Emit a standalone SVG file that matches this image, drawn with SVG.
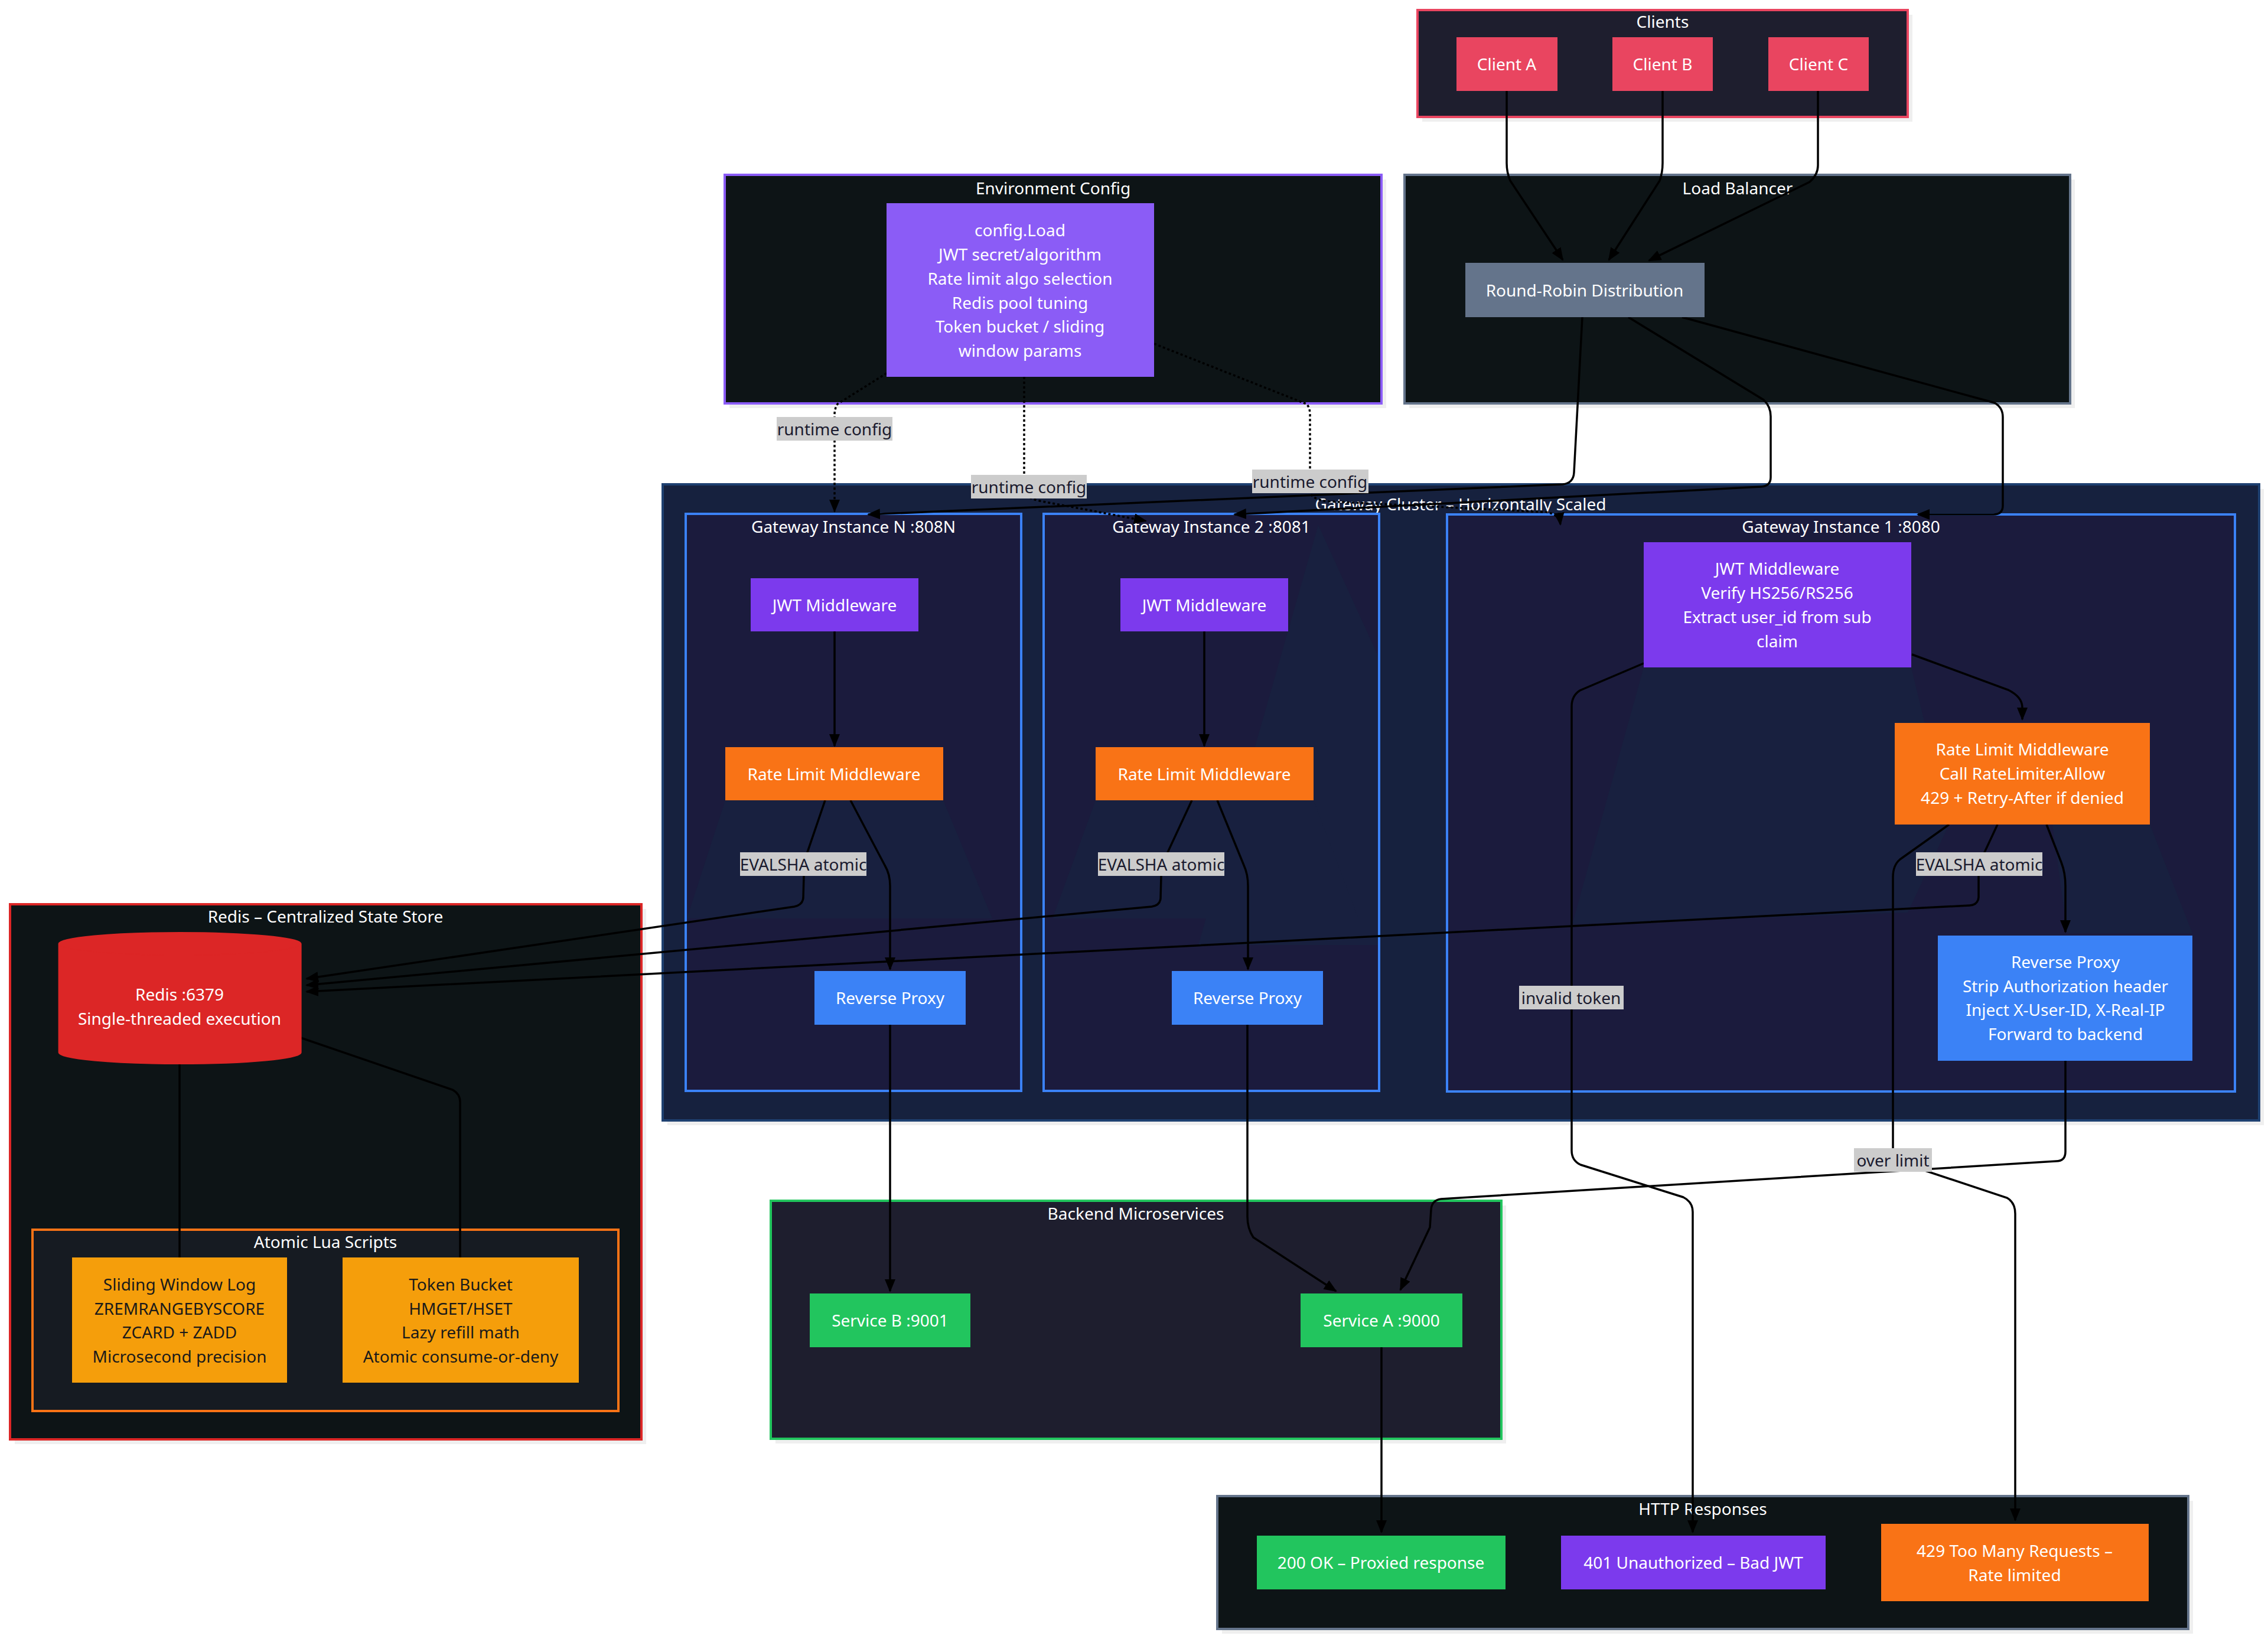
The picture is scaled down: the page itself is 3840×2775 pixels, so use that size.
<svg xmlns="http://www.w3.org/2000/svg" width="3840" height="2775" viewBox="0 0 3840 2775">
<defs>
<style>
text{font-family:"Noto Sans","Liberation Sans",sans-serif;font-size:28px;text-anchor:middle;dominant-baseline:central}
.t{fill:#ffffff}
.dk{fill:#1a1a1a}
.lt{fill:#1a1a2e}
.sh{fill:#efefef}
.e{fill:none;stroke:#000;stroke-width:3.5}
.ea{fill:none;stroke:#000;stroke-width:3.5;marker-end:url(#ah)}
.ed{fill:none;stroke:#000;stroke-width:3.5;stroke-dasharray:4 4;marker-end:url(#ah)}
.lb{fill:#cccccc}
.shade{fill:#18203f}
</style>
<marker id="ah" markerWidth="22" markerHeight="18" refX="20" refY="9" orient="auto" markerUnits="userSpaceOnUse"><path d="M0,0 L22,9 L0,18 z" fill="#000"/></marker>
</defs>
<rect width="3840" height="2775" fill="#ffffff"/>

<!-- clusters -->
<g id="cluster-clients">
<rect x="2408" y="25" width="830" height="181" class="sh"/>
<rect x="2400" y="17" width="830" height="181" fill="#1e1e2e" stroke="#e94560" stroke-width="4"/>
<text x="2815" y="36" class="t">Clients</text>
</g>
<g id="cluster-lb">
<rect x="2386" y="304" width="1127" height="387" class="sh"/>
<rect x="2378" y="296" width="1127" height="387" fill="#0d1416" stroke="#64748b" stroke-width="4"/>
<text x="2942" y="318" class="t">Load Balancer</text>
</g>
<g id="cluster-env">
<rect x="1235" y="304" width="1112" height="387" class="sh"/>
<rect x="1227" y="296" width="1112" height="387" fill="#0d1416" stroke="#8b5cf6" stroke-width="4"/>
<text x="1783" y="318" class="t">Environment Config</text>
</g>
<g id="cluster-gateway">
<rect x="1130" y="828" width="2703" height="1077" class="sh"/>
<rect x="1122" y="820" width="2703" height="1077" fill="#16213e" stroke="#1e4070" stroke-width="4"/>
<text x="2473" y="853" class="t">Gateway Cluster – Horizontally Scaled</text>
</g>
<g id="cluster-gwN">
<rect x="1161" y="870" width="568" height="977" fill="#1b1b3d" stroke="#3b82f6" stroke-width="4"/>
</g>
<g id="cluster-gw2">
<rect x="1767" y="870" width="568" height="977" fill="#1b1b3d" stroke="#3b82f6" stroke-width="4"/>
</g>
<g id="cluster-gw1">
<rect x="2450" y="871" width="1334" height="977" fill="#1b1b3d" stroke="#3b82f6" stroke-width="4"/>
</g>
<g id="shading">
<polygon class="shade" points="1228,1355 1597,1355 1680,1555 1163,1555"/>
<polygon class="shade" points="2232,889 2333,1110 2333,1600 2029,1600"/>
<polygon class="shade" points="1855,1355 2224,1355 2300,1555 1782,1555"/>
<polygon class="shade" points="2783,1130 3236,1130 3300,1396 3230,1545 2662,1565"/>
<polygon class="shade" points="3475,1396 3640,1396 3712,1580 3500,1580"/>
</g>
<g id="cluster-gw-titles">
<text x="1445" y="891" class="t">Gateway Instance N :808N</text>
<text x="2051" y="891" class="t">Gateway Instance 2 :8081</text>
<text x="3117" y="891" class="t">Gateway Instance 1 :8080</text>
</g>
<g id="cluster-redis">
<rect x="25" y="1539" width="1069" height="906" class="sh"/>
<rect x="17" y="1531" width="1069" height="906" fill="#0d1416" stroke="#dc2626" stroke-width="4"/>
<text x="551" y="1551" class="t">Redis – Centralized State Store</text>
</g>
<g id="cluster-lua">
<rect x="55" y="2082" width="992" height="307" fill="#161b22" stroke="#f97316" stroke-width="4"/>
<text x="551" y="2102" class="t">Atomic Lua Scripts</text>
</g>
<g id="cluster-backend">
<rect x="1313" y="2041" width="1237" height="403" class="sh"/>
<rect x="1305" y="2033" width="1237" height="403" fill="#1e1e2e" stroke="#22c55e" stroke-width="4"/>
<text x="1923" y="2054" class="t">Backend Microservices</text>
</g>
<g id="cluster-http">
<rect x="2069" y="2541" width="1644" height="225" class="sh"/>
<rect x="2061" y="2533" width="1644" height="225" fill="#0d1416" stroke="#64748b" stroke-width="4"/>
<text x="2883" y="2554" class="t">HTTP Responses</text>
</g>

<!-- connectors -->
<g id="connectors">
<path class="ea" d="M2551,154 L2551,276 Q2551,292 2557,306 L2646,440"/>
<path class="ea" d="M2815,154 L2815,276 Q2815,292 2810,306 L2724,440"/>
<path class="ea" d="M3078,154 L3078,280 Q3078,296 3064,308 L2792,441"/>
<path class="ea" d="M2679,537 L2665,800 Q2664,818 2646,820 L1470,871"/>
<path class="ea" d="M2757,537 L2986,677 Q2998,688 2998,705 L2998,808 Q2998,823 2982,824 L2090,871"/>
<path class="ea" d="M2848,537 L3377,682 Q3391,690 3391,706 L3391,856 Q3391,871 3375,871 L3247,871"/>
<path class="ed" d="M1501,632 L1418,684 Q1413,692 1413,702 L1413,866"/>
<path class="ed" d="M1734,638 L1734,830 Q1736,843 1760,848 L1940,882"/>
<path class="ed" d="M1954,582 L2212,684 Q2218,690 2218,702 L2218,832 Q2220,846 2250,849 L2618,867 Q2640,871 2642,888"/>
<path class="ea" d="M1413,1069 L1413,1263"/>
<path class="ea" d="M2039,1069 L2039,1263"/>
<path class="ea" d="M1440,1355 L1498,1465 Q1507,1480 1507,1500 L1507,1641"/>
<path class="ea" d="M2061,1355 L2106,1465 Q2113,1480 2113,1500 L2113,1641"/>
<path class="ea" d="M1397,1355 L1367,1443 L1361,1483 L1360,1520 Q1359,1532 1345,1535 L519,1657"/>
<path class="ea" d="M2018,1355 L1977,1443 L1966,1483 L1965,1521 Q1964,1533 1950,1535 L519,1668"/>
<path class="ea" d="M3382,1396 L3360,1443 L3350,1483 L3350,1519 Q3349,1532 3335,1533 L519,1679"/>
<path class="ea" d="M3237,1108 L3400,1168 Q3424,1180 3424,1198 L3424,1218"/>
<path class="ea" d="M3465,1396 L3490,1460 Q3497,1478 3497,1500 L3497,1578"/>
<path class="ea" d="M2783,1123 L2675,1169 Q2661,1178 2661,1196 L2661,1948 Q2661,1965 2676,1972 L2850,2027 Q2866,2035 2866,2052 L2866,2594"/>
<path class="ea" d="M3300,1396 L3217,1455 Q3205,1465 3205,1485 L3205,1964 L3398,2028 Q3412,2036 3412,2055 L3412,2574"/>
<path class="ea" d="M3497,1796 L3497,1950 Q3497,1966 3481,1966 L2440,2030 Q2424,2032 2423,2048 L2421,2078 L2371,2184"/>
<path class="ea" d="M2112,1735 L2112,2060 Q2112,2080 2122,2095 L2262,2186"/>
<path class="ea" d="M1507,1735 L1507,2186"/>
<path class="ea" d="M2339,2281 L2339,2594"/>
<path class="e" d="M304,1801 L304,2129"/>
<path class="e" d="M509,1757 L766,1845 Q779,1852 779,1866 L779,2129"/>
</g>

<!-- nodes -->
<g id="node-clientA"><rect x="2466" y="63" width="171" height="91" fill="#e94560"/><text x="2551" y="108" class="t">Client A</text></g>
<g id="node-clientB"><rect x="2730" y="63" width="170" height="91" fill="#e94560"/><text x="2815" y="108" class="t">Client B</text></g>
<g id="node-clientC"><rect x="2994" y="63" width="170" height="91" fill="#e94560"/><text x="3079" y="108" class="t">Client C</text></g>
<g id="node-rr"><rect x="2481" y="445" width="405" height="92" fill="#64748b"/><text x="2683" y="491" class="t">Round-Robin Distribution</text></g>
<g id="node-config"><rect x="1501" y="344" width="453" height="294" fill="#8b5cf6"/>
<text x="1727" y="389" class="t">config.Load</text>
<text x="1727" y="430" class="t">JWT secret/algorithm</text>
<text x="1727" y="471" class="t">Rate limit algo selection</text>
<text x="1727" y="512" class="t">Redis pool tuning</text>
<text x="1727" y="552" class="t">Token bucket / sliding</text>
<text x="1727" y="593" class="t">window params</text></g>
<g id="node-jwtN"><rect x="1271" y="979" width="284" height="90" fill="#7c3aed"/><text x="1413" y="1024" class="t">JWT Middleware</text></g>
<g id="node-rlN"><rect x="1228" y="1265" width="369" height="90" fill="#f97316"/><text x="1412" y="1310" class="t">Rate Limit Middleware</text></g>
<g id="node-rpN"><rect x="1379" y="1644" width="256" height="91" fill="#3b82f6"/><text x="1507" y="1689" class="t">Reverse Proxy</text></g>
<g id="node-jwt2"><rect x="1897" y="979" width="284" height="90" fill="#7c3aed"/><text x="2039" y="1024" class="t">JWT Middleware</text></g>
<g id="node-rl2"><rect x="1855" y="1265" width="369" height="90" fill="#f97316"/><text x="2039" y="1310" class="t">Rate Limit Middleware</text></g>
<g id="node-rp2"><rect x="1984" y="1644" width="256" height="91" fill="#3b82f6"/><text x="2112" y="1689" class="t">Reverse Proxy</text></g>
<g id="node-jwt1"><rect x="2783" y="918" width="453" height="212" fill="#7c3aed"/>
<text x="3009" y="962" class="t">JWT Middleware</text>
<text x="3009" y="1003" class="t">Verify HS256/RS256</text>
<text x="3009" y="1044" class="t">Extract user_id from sub</text>
<text x="3009" y="1085" class="t">claim</text></g>
<g id="node-rl1"><rect x="3208" y="1224" width="432" height="172" fill="#f97316"/>
<text x="3424" y="1268" class="t">Rate Limit Middleware</text>
<text x="3424" y="1309" class="t">Call RateLimiter.Allow</text>
<text x="3424" y="1350" class="t">429 + Retry-After if denied</text></g>
<g id="node-rp1"><rect x="3281" y="1584" width="431" height="212" fill="#3b82f6"/>
<text x="3497" y="1628" class="t">Reverse Proxy</text>
<text x="3497" y="1669" class="t">Strip Authorization header</text>
<text x="3497" y="1709" class="t">Inject X-User-ID, X-Real-IP</text>
<text x="3497" y="1750" class="t">Forward to backend</text></g>
<g id="node-redis"><path d="M99.6,1598 a205,19 0 0 0 410,0 a205,19 0 0 0 -410,0 l0,184 a205,19 0 0 0 410,0 l0,-184" fill="#dc2626" stroke="#dc2626" stroke-width="2"/>
<text x="304" y="1683" class="t">Redis :6379</text>
<text x="304" y="1724" class="t">Single-threaded execution</text></g>
<g id="node-sliding"><rect x="122" y="2129" width="364" height="212" fill="#f59e0b"/>
<text x="304" y="2174" class="dk">Sliding Window Log</text>
<text x="304" y="2215" class="dk">ZREMRANGEBYSCORE</text>
<text x="304" y="2255" class="dk">ZCARD + ZADD</text>
<text x="304" y="2296" class="dk">Microsecond precision</text></g>
<g id="node-token"><rect x="580" y="2129" width="400" height="212" fill="#f59e0b"/>
<text x="780" y="2174" class="dk">Token Bucket</text>
<text x="780" y="2215" class="dk">HMGET/HSET</text>
<text x="780" y="2255" class="dk">Lazy refill math</text>
<text x="780" y="2296" class="dk">Atomic consume-or-deny</text></g>
<g id="node-svcB"><rect x="1371" y="2190" width="272" height="91" fill="#22c55e"/><text x="1507" y="2235" class="t">Service B :9001</text></g>
<g id="node-svcA"><rect x="2202" y="2190" width="274" height="91" fill="#22c55e"/><text x="2339" y="2235" class="t">Service A :9000</text></g>
<g id="node-200"><rect x="2128" y="2600" width="421" height="91" fill="#22c55e"/><text x="2338" y="2645" class="t">200 OK – Proxied response</text></g>
<g id="node-401"><rect x="2643" y="2600" width="448" height="91" fill="#7c3aed"/><text x="2867" y="2645" class="t">401 Unauthorized – Bad JWT</text></g>
<g id="node-429"><rect x="3185" y="2580" width="453" height="131" fill="#f97316"/>
<text x="3411" y="2625" class="t">429 Too Many Requests –</text>
<text x="3411" y="2666" class="t">Rate limited</text></g>

<!-- edge labels -->
<g id="edge-labels">
<rect x="1315" y="706" width="196" height="40" class="lb"/><text x="1413" y="726" class="lt">runtime config</text>
<rect x="1644" y="804" width="196" height="40" class="lb"/><text x="1742" y="824" class="lt">runtime config</text>
<rect x="2120" y="795" width="197" height="40" class="lb"/><text x="2218" y="815" class="lt">runtime config</text>
<rect x="1253" y="1443" width="214" height="40" class="lb"/><text x="1360" y="1463" class="lt">EVALSHA atomic</text>
<rect x="1859" y="1443" width="214" height="40" class="lb"/><text x="1966" y="1463" class="lt">EVALSHA atomic</text>
<rect x="3244" y="1443" width="214" height="40" class="lb"/><text x="3351" y="1463" class="lt">EVALSHA atomic</text>
<rect x="2572" y="1669" width="177" height="40" class="lb"/><text x="2660" y="1689" class="lt">invalid token</text>
<rect x="3139" y="1944" width="132" height="40" class="lb"/><text x="3205" y="1964" class="lt">over limit</text>
</g>
</svg>
